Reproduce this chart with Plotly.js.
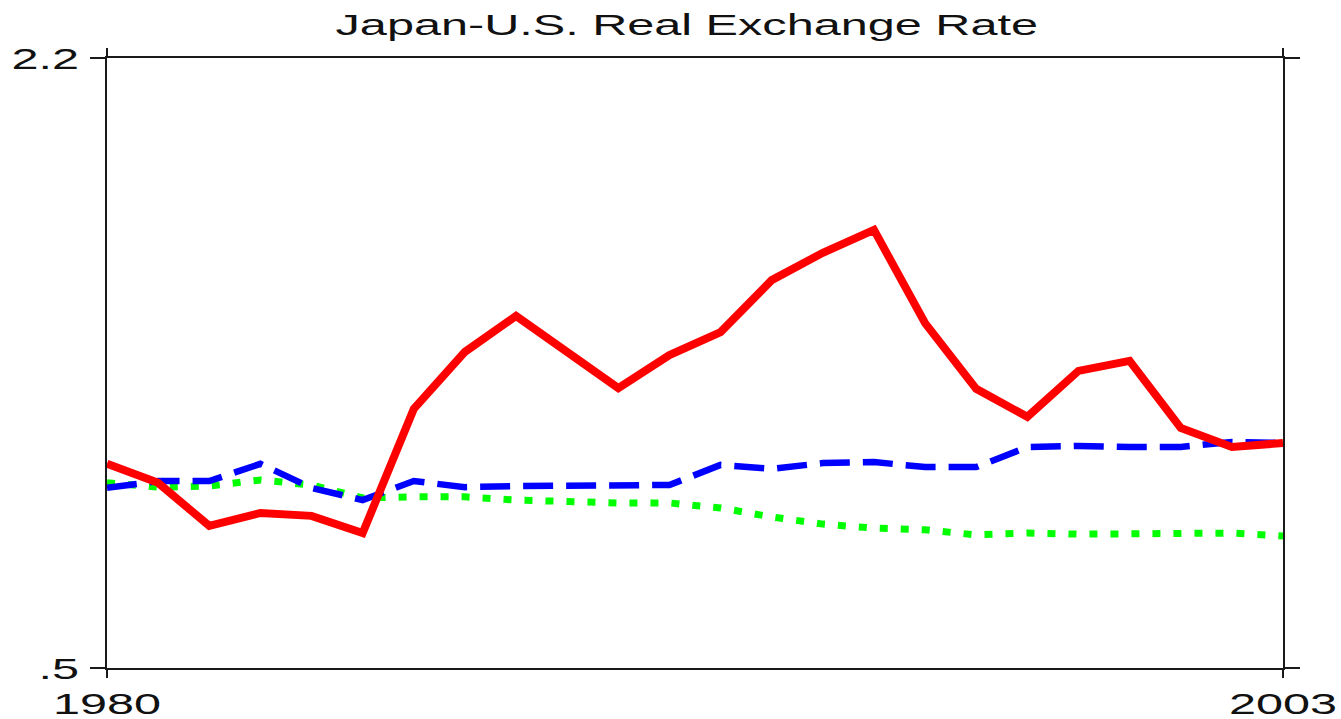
<!DOCTYPE html>
<html>
<head>
<meta charset="utf-8">
<script src="https://cdn.plot.ly/plotly-3.0.1.min.js"></script>
<style>
  html, body { margin: 0; padding: 0; background: #fff; }
  #chart { width: 1341px; height: 719px; }
</style>
</head>
<body>
<div id="chart"></div>
<script>
// ====== data ======
const years = [
  1980, 1981, 1982, 1983, 1984, 1985, 1986, 1987, 1988, 1989, 1990, 1991,
  1992, 1993, 1994, 1995, 1996, 1997, 1998, 1999, 2000, 2001, 2002, 2003
];
const rateActual = [
  1.069, 1.016, 0.896, 0.932, 0.924, 0.876, 1.222, 1.381, 1.481, 1.381, 1.280, 1.372,
  1.436, 1.581, 1.657, 1.721, 1.461, 1.278, 1.200, 1.328, 1.356, 1.169, 1.116, 1.127
];
const rateDashed = [
  1.002, 1.021, 1.021, 1.069, 1.002, 0.968, 1.021, 1.004, 1.007, 1.007, 1.007, 1.010,
  1.066, 1.055, 1.071, 1.074, 1.060, 1.060, 1.116, 1.119, 1.116, 1.116, 1.130, 1.127
];
const rateDotted = [
  1.016, 1.004, 1.007, 1.024, 1.010, 0.974, 0.977, 0.977, 0.968, 0.963, 0.960, 0.960,
  0.946, 0.921, 0.901, 0.890, 0.885, 0.871, 0.876, 0.873, 0.873, 0.876, 0.876, 0.868
];
const xTickVals = [1980, 2003];
const xTickText = ["1980", "2003"];
const yTickVals = [0.5, 2.2];
const yTickText = [".5", "2.2"];
const chartTitle = "Japan-U.S. Real Exchange Rate";

document.addEventListener("DOMContentLoaded", () => {
  const chartEl = document.querySelector("#chart");
  const fontFamily = "Liberation Sans, Arial, sans-serif";

  const data = [
    {
      type: "scatter", mode: "lines", x: years, y: rateDotted,
      line: { color: "#00ff00", width: 7, dash: "8px,13px" },
      hoverinfo: "skip"
    },
    {
      type: "scatter", mode: "lines", x: years, y: rateDashed,
      line: { color: "#0000ff", width: 6.5, dash: "30px,13px" },
      hoverinfo: "skip"
    },
    {
      type: "scatter", mode: "lines", x: years, y: rateActual,
      line: { color: "#ff0000", width: 8 },
      hoverinfo: "skip"
    }
  ];

  const axisCommon = {
    showgrid: false,
    zeroline: false,
    showline: true,
    linecolor: "#1a1a1a",
    linewidth: 2,
    mirror: "ticks",
    ticks: "outside",
    tickcolor: "#1a1a1a",
    tickwidth: 2,
    tickfont: { family: fontFamily, size: 30, color: "#111" },
    fixedrange: true
  };

  const layout = {
    width: 1341,
    height: 719,
    margin: { l: 107, r: 58, t: 58, b: 51 },
    paper_bgcolor: "#fff",
    plot_bgcolor: "#fff",
    showlegend: false,
    title: {
      text: chartTitle,
      font: { family: fontFamily, size: 30, color: "#111" },
      x: 0.493,
      xref: "paper",
      y: 1 - 24 / 719,
      yref: "container",
      yanchor: "middle"
    },
    xaxis: Object.assign({}, axisCommon, {
      range: [1980, 2003],
      tickmode: "array",
      tickvals: xTickVals,
      ticktext: xTickText,
      ticklen: 8
    }),
    yaxis: Object.assign({}, axisCommon, {
      range: [0.5, 2.2],
      tickmode: "array",
      tickvals: yTickVals,
      ticktext: yTickText,
      ticklen: 15,
      ticklabelstandoff: 5
    })
  };

  // 元画像は横に引き伸ばされているので、文字も横方向に伸ばす
  const stretch = 1.62;
  function stretchTexts() {
    chartEl.querySelectorAll(".gtitle, .xtick text, .ytick text").forEach((t) => {
      if (t.dataset.stretched) return;
      const w = t.getComputedTextLength();
      t.setAttribute("textLength", (w * stretch).toFixed(1));
      t.setAttribute("lengthAdjust", "spacingAndGlyphs");
      t.dataset.stretched = "1";
    });
  }

  Plotly.newPlot(chartEl, data, layout, { displayModeBar: false, staticPlot: true })
    .then(stretchTexts);
});
</script>
</body>
</html>
